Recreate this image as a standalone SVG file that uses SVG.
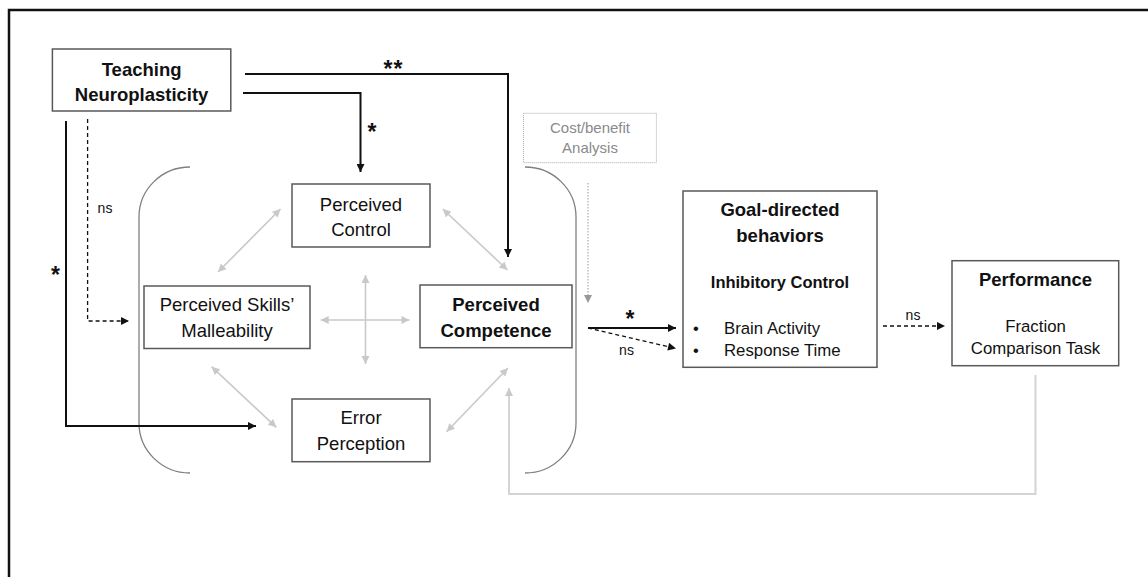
<svg xmlns="http://www.w3.org/2000/svg" width="1148" height="577" viewBox="0 0 1148 577">
<style>
text{font-family:"Liberation Sans",Arial,sans-serif;fill:#111}
.lbl{font-size:18.5px;text-anchor:middle}
.b{font-weight:bold}
.box{fill:#fff;stroke:#595959;stroke-width:1.5}
.blk{fill:none;stroke:#111;stroke-width:2}
.dash{fill:none;stroke:#111;stroke-width:1.3;stroke-dasharray:4 3}
.gry{fill:none;stroke:#c9c9c9;stroke-width:1.6}
.brk{fill:none;stroke:#808080;stroke-width:1.3}
.sm{font-size:14px;text-anchor:middle}
.ast{font-size:23px;font-weight:bold;text-anchor:middle}
</style>
<defs>
<marker id="ab" viewBox="0 0 10 10" refX="10" refY="5" markerWidth="9" markerHeight="8" markerUnits="userSpaceOnUse" orient="auto"><path d="M0,0 L10,5 L0,10 z" fill="#111"/></marker>
<marker id="ag" viewBox="0 0 10 10" refX="10" refY="5" markerWidth="9" markerHeight="8" markerUnits="userSpaceOnUse" orient="auto-start-reverse"><path d="M0,0 L10,5 L0,10 z" fill="#c9c9c9"/></marker>
<marker id="ad" viewBox="0 0 10 10" refX="10" refY="5" markerWidth="9" markerHeight="8" markerUnits="userSpaceOnUse" orient="auto"><path d="M0,0 L10,5 L0,10 z" fill="#999"/></marker>
</defs>
<rect width="1148" height="577" fill="#fff"/>
<path d="M9,577 V10 H1148" fill="none" stroke="#111" stroke-width="2.5"/>

<g id="brackets">
<path class="brk" d="M190,167 A51,50 0 0 0 139,217 V423 A51,50 0 0 0 190,473"/>
<path class="brk" d="M525,167 A51,50 0 0 1 576,217 V423 A51,50 0 0 1 525,473"/>
</g>

<g id="connectors">
<path class="blk" d="M245,74 H508 V257" marker-end="url(#ab)"/>
<path class="blk" d="M243,93 H360.5 V172" marker-end="url(#ab)"/>
<path class="blk" d="M66,121 V426 H256" marker-end="url(#ab)"/>
<path class="dash" d="M87.6,119 V321 H129" marker-end="url(#ab)"/>
<line class="gry" x1="280.5" y1="209" x2="218" y2="272" marker-start="url(#ag)" marker-end="url(#ag)"/>
<line class="gry" x1="442.8" y1="209" x2="507.5" y2="270" marker-start="url(#ag)" marker-end="url(#ag)"/>
<line class="gry" x1="320.7" y1="320" x2="409.5" y2="320" marker-start="url(#ag)" marker-end="url(#ag)"/>
<line class="gry" x1="365.5" y1="275" x2="365.5" y2="364" marker-start="url(#ag)" marker-end="url(#ag)"/>
<line class="gry" x1="211.6" y1="366.7" x2="276.3" y2="427.3" marker-start="url(#ag)" marker-end="url(#ag)"/>
<line class="gry" x1="446.6" y1="431.7" x2="508" y2="368" marker-start="url(#ag)" marker-end="url(#ag)"/>
<path d="M1035.5,375 V494 H509 V388" fill="none" stroke="#d4d4d4" stroke-width="2" marker-end="url(#ag)"/>
<path d="M588,183 V303" fill="none" stroke="#aaa" stroke-width="1.2" stroke-dasharray="1.5 1.5" marker-end="url(#ad)"/>
<path class="blk" d="M588,328 H676" marker-end="url(#ab)"/>
<path class="dash" d="M588,328 L676,348.5" marker-end="url(#ab)"/>
<path class="dash" d="M883,326 H945" marker-end="url(#ab)"/>
<text class="ast" x="393.5" y="77" letter-spacing="1">**</text>
<text class="ast" x="372" y="140">*</text>
<text class="ast" x="55.5" y="283">*</text>
<text class="ast" x="630" y="327">*</text>
<text class="sm" x="105" y="213">ns</text>
<text class="sm" x="626.5" y="355">ns</text>
<text class="sm" x="913" y="320">ns</text>
</g>

<g id="teaching">
<rect class="box" x="52.4" y="49" width="178.4" height="62"/>
<text class="lbl b" x="141.6" y="76">Teaching</text>
<text class="lbl b" x="141.6" y="101">Neuroplasticity</text>
</g>

<g id="cost">
<rect x="523.5" y="113.3" width="132.9" height="49.4" fill="#fff" stroke="#aaa" stroke-width="1" stroke-dasharray="1 1"/>
<text x="590" y="133.3" font-size="15" text-anchor="middle" style="fill:#8a8a8a">Cost/benefit</text>
<text x="590" y="153.3" font-size="15" text-anchor="middle" style="fill:#8a8a8a">Analysis</text>
</g>

<g id="control">
<rect class="box" x="292" y="184" width="138" height="63"/>
<text class="lbl" x="361" y="211">Perceived</text>
<text class="lbl" x="361" y="236">Control</text>
</g>

<g id="skills">
<rect class="box" x="144" y="286" width="166" height="62.5"/>
<text class="lbl" x="227" y="311">Perceived Skills’</text>
<text class="lbl" x="227" y="337">Malleability</text>
</g>

<g id="competence">
<rect class="box" x="420" y="285" width="152" height="62.7"/>
<text class="lbl b" x="496" y="311">Perceived</text>
<text class="lbl b" x="496" y="336.7">Competence</text>
</g>

<g id="error">
<rect class="box" x="292" y="399" width="138" height="62.7"/>
<text class="lbl" x="361" y="424.3">Error</text>
<text class="lbl" x="361" y="450.3">Perception</text>
</g>

<g id="goal">
<rect class="box" x="683" y="191" width="194" height="176.3"/>
<text class="lbl b" x="780" y="216">Goal-directed</text>
<text class="lbl b" x="780" y="241.7">behaviors</text>
<text x="780" y="288.3" font-size="16.5" font-weight="bold" text-anchor="middle">Inhibitory Control</text>
<text x="696" y="334" font-size="16.5" text-anchor="middle">•</text>
<text x="724" y="334" font-size="16.8">Brain Activity</text>
<text x="696" y="356" font-size="16.5" text-anchor="middle">•</text>
<text x="724" y="356" font-size="16.8">Response Time</text>
</g>

<g id="performance">
<rect class="box" x="952" y="260.7" width="166.7" height="105"/>
<text class="lbl b" x="1035.5" y="285.7">Performance</text>
<text x="1035.5" y="332.3" font-size="16.8" text-anchor="middle">Fraction</text>
<text x="1035.5" y="354.3" font-size="16.8" text-anchor="middle">Comparison Task</text>
</g>
</svg>
